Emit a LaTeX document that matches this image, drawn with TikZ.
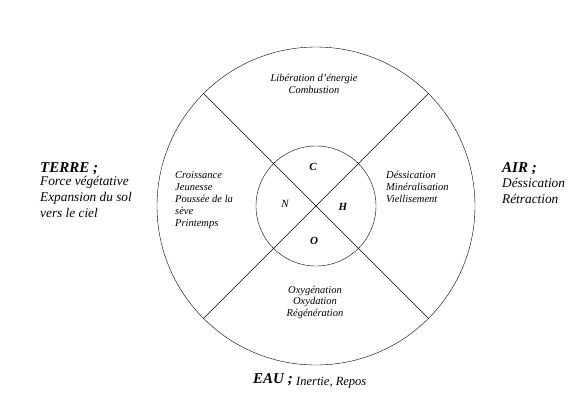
\documentclass[tikz,border=0pt]{standalone}
\usepackage{fontspec}
\setmainfont{Liberation Serif}
\usetikzlibrary{positioning}
\tikzset{
  sector/.style={font=\fontsize{10.5}{12}\selectfont\itshape, inner sep=0pt},
  element/.style={font=\fontsize{11}{13}\selectfont\bfseries\itshape, inner sep=0pt},
  realm/.style={font=\fontsize{13.3}{16}\selectfont\itshape, align=left, inner sep=0pt},
  realm title/.style={font=\fontsize{15}{16}\selectfont\bfseries\itshape}
}
\begin{document}
\begin{tikzpicture}[x=1pt, y=-1pt]
  \useasboundingbox (0,0) rectangle (581,408);
  \def\R{159pt}
  \def\r{60pt}

  % circles and cross
  \node [circle, draw, minimum size=2*\R, inner sep=0pt] (outer) at (316,206) {};
  \draw (outer.135) -- (outer.-45);
  \draw (outer.45) -- (outer.-135);
  \node [circle, draw, minimum size=2*\r, inner sep=0pt] (inner) at (outer.center) {};

  % elements
  \node [element] (C) at (313,167) {C};
  \node [element, font=\fontsize{11}{13}\selectfont\itshape] (N) at (285,204) {N};
  \node [element] (H) at (343,207) {H};
  \node [element] (O) at (314,241) {O};

  % sectors (anchored on the last line)
  \node [sector, align=center, anchor=base] (fire) at (314,93) {Libération d'énergie\\Combustion};
  \node [sector, align=left, anchor=base west] (growth) at (175,226) {Croissance\\Jeunesse\\Poussée de la\\sève\\Printemps};
  \node [sector, align=left, anchor=base west] (drying) at (386,202) {Déssication\\Minéralisation\\Viellisement};
  \node [sector, align=center, anchor=base, font=\fontsize{10.5}{11.5}\selectfont\itshape] (regen) at (315,316) {Oxygénation\\Oxydation\\Régénération};

  % realms
  \node [realm, anchor=base west] (terre) at (40,217) {{\fontsize{15}{16}\selectfont\bfseries TERRE ;}\\[-3pt]Force végétative\\Expansion du sol\\vers le ciel};
  \node [realm, anchor=base west] (air) at (502,203) {{\fontsize{15}{16}\selectfont\bfseries AIR ;}\\[-1pt]Déssication\\Rétraction};
  \node [realm title, inner sep=0pt, anchor=base west] (eau) at (253,383) {EAU ;};
  \node [sector, font=\fontsize{12.5}{13}\selectfont\itshape, anchor=base west, right=3pt of eau.base east] (repos) {Inertie, Repos};
\end{tikzpicture}
\end{document}
